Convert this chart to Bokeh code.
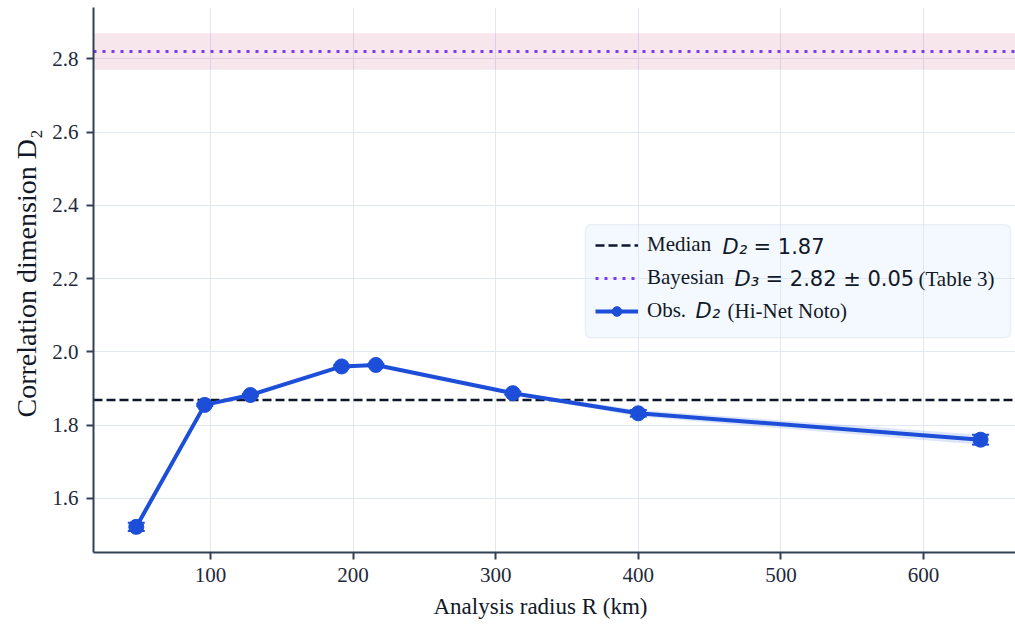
from bokeh.plotting import figure
from bokeh.models import (ColumnDataSource, Range1d, FixedTicker, PrintfTickFormatter,
                          BoxAnnotation, Whisker, TeeHead, Legend, LegendItem, Label, Title)
from bokeh.embed import file_html
from bokeh.resources import INLINE
import numpy as np

# Correlation dimension against analysis radius
radius_km = [48, 96, 128, 192, 216, 312, 400, 640]
d2_obs = [1.522, 1.855, 1.882, 1.960, 1.964, 1.887, 1.832, 1.760]
d2_err = [0.0115, 0.003, 0.003, 0.003, 0.003, 0.004, 0.009, 0.0135]

bayes_d3 = 2.82
bayes_d3_err = 0.05
median_d2 = float(np.median(d2_obs))

x_ticks = [100, 200, 300, 400, 500, 600]
y_ticks = [1.6, 1.8, 2.0, 2.2, 2.4, 2.6, 2.8]
x_lim = (18.0, 664.5)
y_lim = (1.452, 2.940)

BLUE = "#1d4ed8"
NAVY = "#0f172a"
PURPLE = "#7c3aed"
AXIS = "#334155"
TEXT = "#1e293b"
INK = "#111827"
SERIF = "Liberation Serif"
SANS = "DejaVu Sans"

src = ColumnDataSource(dict(
    r=radius_km,
    d=d2_obs,
    lo=[v - e for v, e in zip(d2_obs, d2_err)],
    hi=[v + e for v, e in zip(d2_obs, d2_err)],
))

p = figure(width=1015, height=633, output_backend="svg", toolbar_location=None,
           x_range=Range1d(*x_lim), y_range=Range1d(*y_lim),
           min_border_left=93, min_border_right=0, min_border_top=7, min_border_bottom=81)
p.outline_line_color = None
p.background_fill_color = "white"
p.border_fill_color = "white"

# grid
p.xgrid.ticker = FixedTicker(ticks=x_ticks)
p.ygrid.ticker = FixedTicker(ticks=y_ticks)
for g in (p.xgrid, p.ygrid):
    g.grid_line_color = "#e2e8f0"
    g.grid_line_width = 1

# axes
p.xaxis.ticker = FixedTicker(ticks=x_ticks)
p.yaxis.ticker = FixedTicker(ticks=y_ticks)
p.yaxis.formatter = PrintfTickFormatter(format="%.1f")
for ax in (p.xaxis, p.yaxis):
    ax.axis_line_color = AXIS
    ax.axis_line_width = 2
    ax.major_tick_line_color = AXIS
    ax.major_tick_line_width = 2
    ax.major_tick_out = 7
    ax.major_tick_in = 0
    ax.minor_tick_line_color = None
    ax.major_label_text_font = SERIF
    ax.major_label_text_font_size = "21px"
    ax.major_label_text_color = TEXT
p.xaxis.major_label_standoff = 8
p.yaxis.major_label_standoff = 8

# axis titles, placed as side titles so they can be offset along the axis
p.add_layout(Title(text="Analysis radius R (km)", align="left", offset=340, standoff=14,
                   text_font=SERIF, text_font_size="23px", text_font_style="normal",
                   text_color=INK), "below")
p.add_layout(Title(text="Correlation dimension D\u2082", align="left", offset=135, standoff=15,
                   text_font=SERIF, text_font_size="28px", text_font_style="normal",
                   text_color=INK), "left")

# Bayesian D3 credible band
p.add_layout(BoxAnnotation(bottom=bayes_d3 - bayes_d3_err, top=bayes_d3 + bayes_d3_err,
                           fill_color="#be185d", fill_alpha=0.11, line_color=None,
                           level="underlay"))

# horizontal reference lines across the full x extent
bay_line = p.line(list(x_lim), [bayes_d3, bayes_d3], line_color=PURPLE,
                  line_width=3, line_dash="3 6")
med_line = p.line(list(x_lim), [median_d2, median_d2], line_color=NAVY,
                  line_width=2.5, line_dash="9 4")

# observed D2 with uncertainty band and error bars
p.varea(x="r", y1="lo", y2="hi", source=src, fill_color=BLUE, fill_alpha=0.15)
obs_line = p.line("r", "d", source=src, line_color=BLUE, line_width=4)
p.add_layout(Whisker(source=src, base="r", upper="hi", lower="lo",
                     line_color=BLUE, line_width=2, level="glyph",
                     upper_head=TeeHead(size=17, line_color=BLUE, line_width=2),
                     lower_head=TeeHead(size=17, line_color=BLUE, line_width=2)))
obs_pts = p.scatter("r", "d", source=src, marker="circle", size=15,
                    fill_color=BLUE, line_color=BLUE)

# legend frame
FL, FB = 93, 551.7  # frame left / bottom in page pixels
box_l, box_t, box_r, box_b = 585, 224, 1010, 337
p.add_layout(BoxAnnotation(left=box_l - FL, right=box_r - FL, top=FB - box_t, bottom=FB - box_b,
                           left_units="screen", right_units="screen",
                           top_units="screen", bottom_units="screen",
                           fill_color="#dbeafe", fill_alpha=0.3,
                           line_color="#cbd5e1", line_width=1.5, border_radius=5))

legend = Legend(items=[LegendItem(label="Median", renderers=[med_line]),
                       LegendItem(label="Bayesian", renderers=[bay_line]),
                       LegendItem(label="Obs.", renderers=[obs_line, obs_pts])],
                location=(box_l - FL, FB - 333), padding=10, spacing=8,
                glyph_width=43, glyph_height=24, label_height=24, label_standoff=9,
                label_text_font=SERIF, label_text_font_size="21px",
                label_text_color=INK,
                background_fill_alpha=0, border_line_alpha=0)
p.add_layout(legend)


def put(x, y, txt, font, style):
    p.add_layout(Label(x=x - FL, y=FB - y, x_units="screen", y_units="screen", text=txt,
                       text_font=font, text_font_style=style, text_font_size="21px",
                       text_color=INK, text_baseline="middle", text_align="left"))


# legend label tails (math parts in sans, notes in serif)
rows = [246, 278, 310]
put(722, rows[0], "D\u2082", SANS, "italic")
put(753, rows[0], "= %.2f" % median_d2, SANS, "normal")
put(734, rows[1], "D\u2083", SANS, "italic")
put(765, rows[1], "= %.2f \u00b1 %.2f" % (bayes_d3, bayes_d3_err), SANS, "normal")
put(918, rows[1], "(Table 3)", SERIF, "normal")
put(695, rows[2], "D\u2082", SANS, "italic")
put(727, rows[2], "(Hi-Net Noto)", SERIF, "normal")

open("out.html", "w").write(file_html(p, INLINE))
